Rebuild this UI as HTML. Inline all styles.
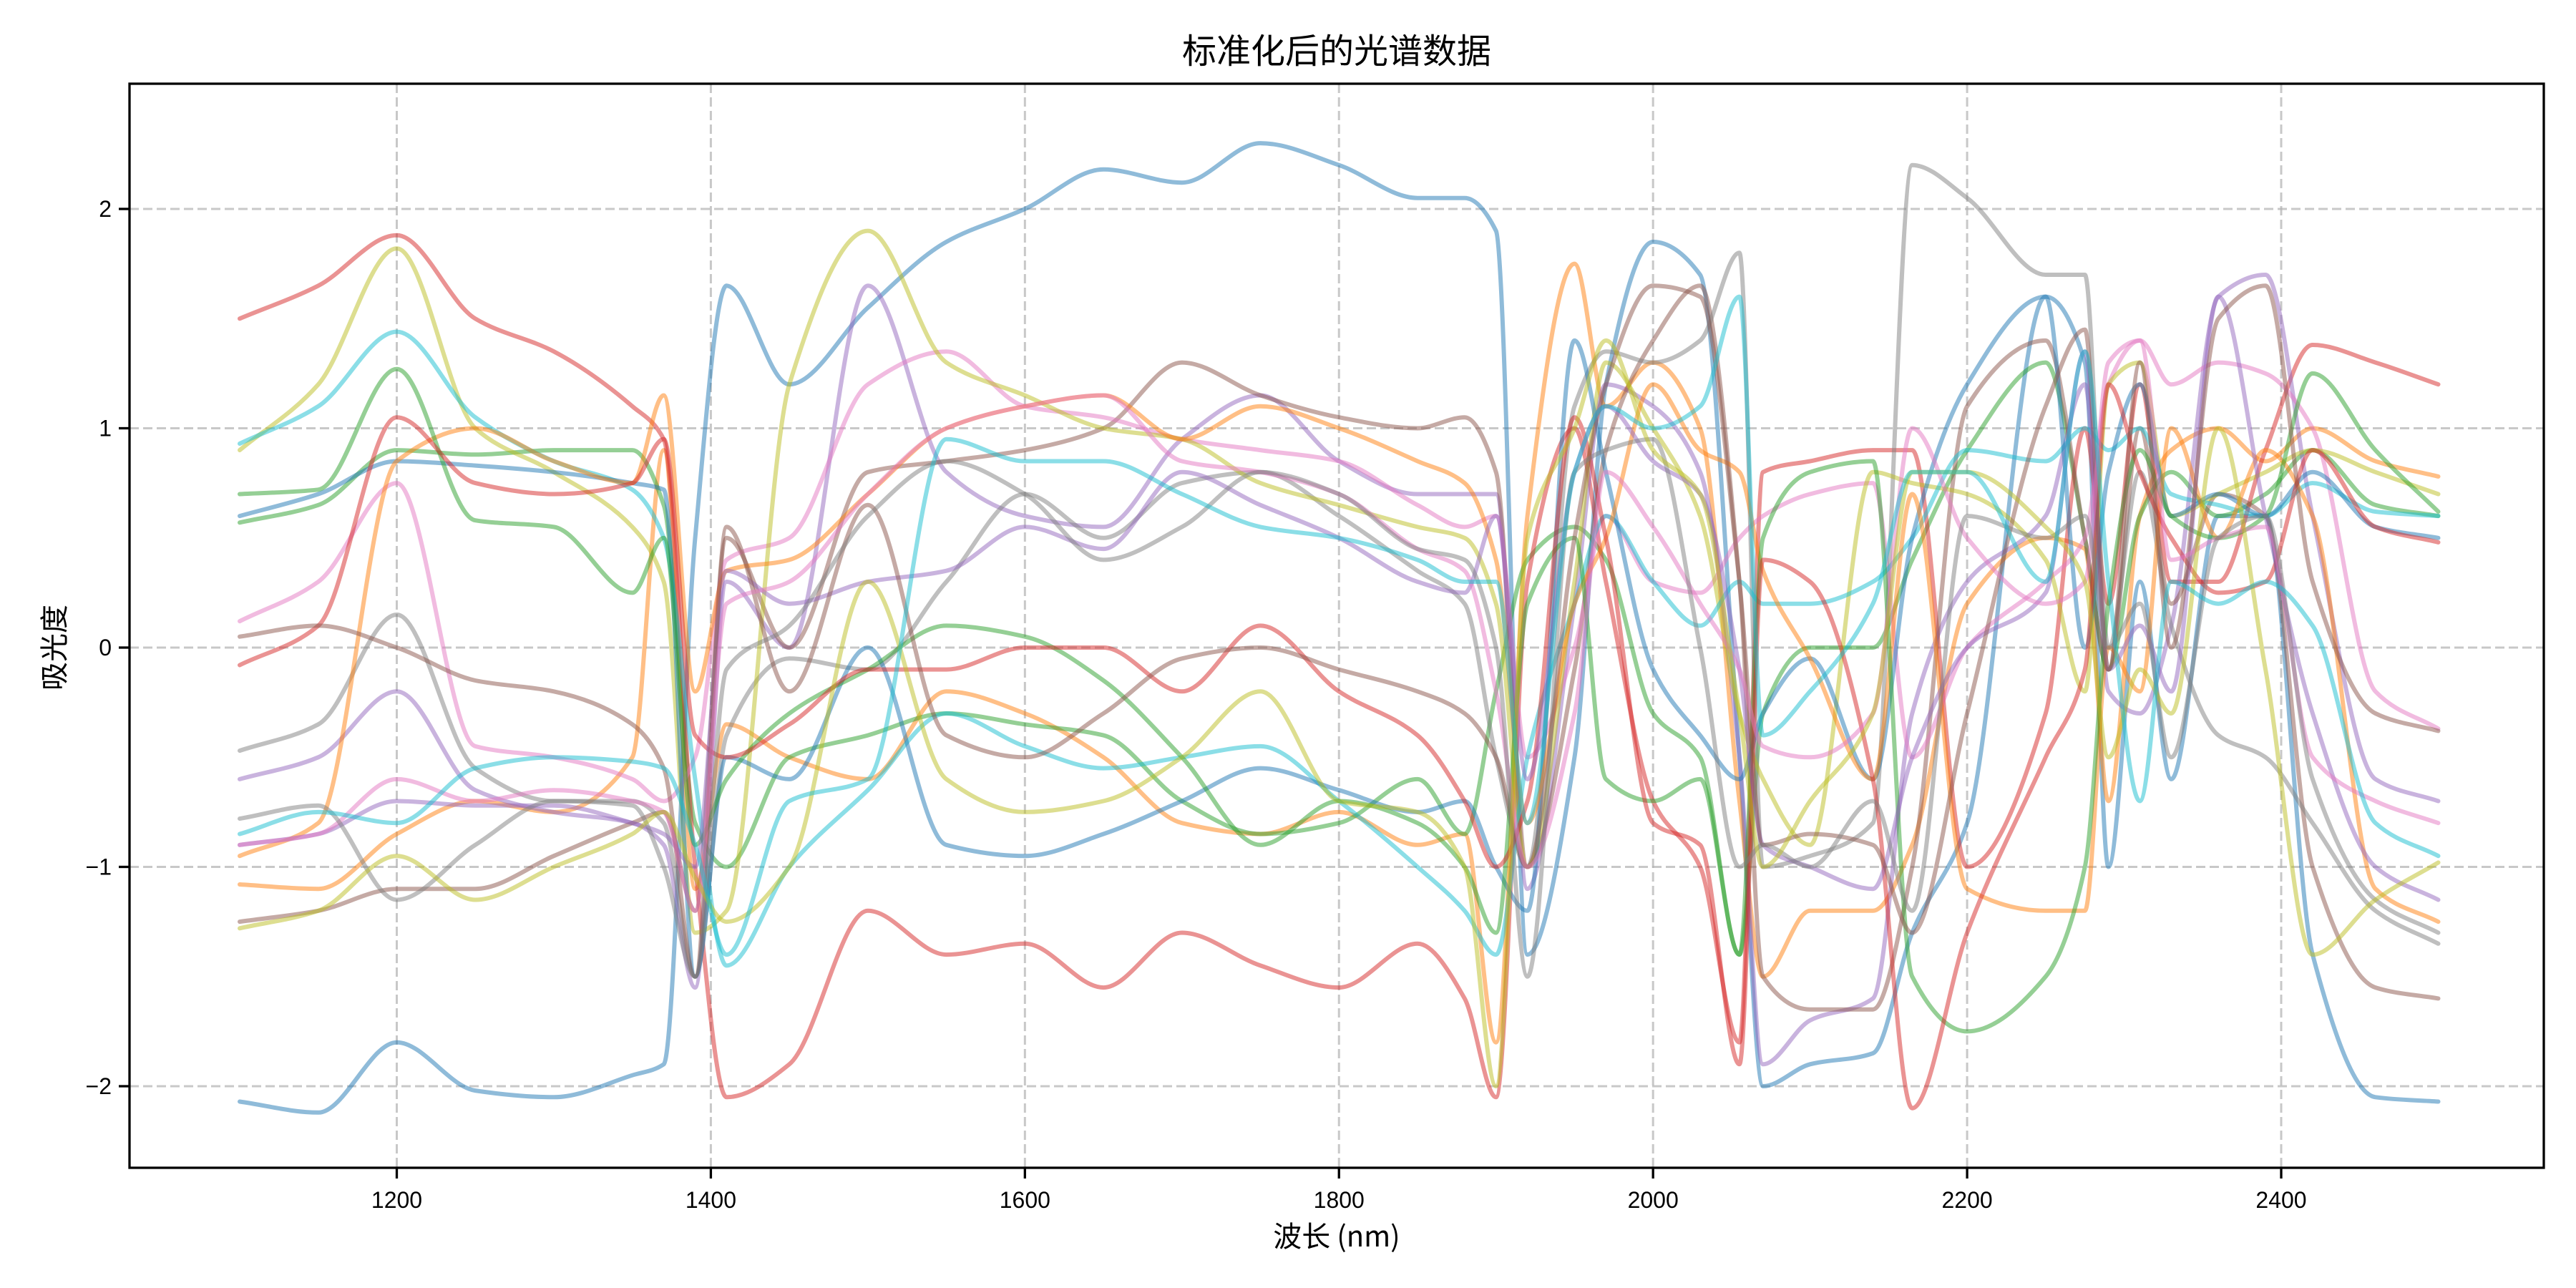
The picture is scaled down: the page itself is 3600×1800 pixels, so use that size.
<!DOCTYPE html>
<html><head><meta charset="utf-8"><style>
html,body{margin:0;padding:0;background:#fff;}
svg{display:block;font-family:"Liberation Sans","Noto Sans CJK SC",sans-serif;}
</style></head><body>
<svg id="chart" width="3600" height="1800" viewBox="0 0 3600 1800" xmlns="http://www.w3.org/2000/svg">
<rect x="0" y="0" width="3600" height="1800" fill="#fff"/>
<text x="1868" y="88" font-size="48" text-anchor="middle" font-family="'Noto Sans CJK SC',sans-serif">标准化后的光谱数据</text>
<g id="grid"></g>
<g id="lines"></g>
<rect x="181" y="117" width="3374" height="1515" fill="none" stroke="#000" stroke-width="3.3"/>
<g id="ticks"></g>
<text x="1868" y="1742" font-size="40" text-anchor="middle" font-family="'Noto Sans CJK SC',sans-serif">波长 (nm)</text>
<text x="0" y="0" font-size="40" text-anchor="middle" transform="translate(90,905) rotate(-90)" font-family="'Noto Sans CJK SC',sans-serif">吸光度</text>
</svg>
<script>
const wavelengths=[1100,1150,1200,1250,1300,1350,1370,1390,1410,1450,1500,1550,1600,1650,1700,1750,1800,1850,1880,1900,1920,1950,1970,2000,2030,2055,2070,2100,2140,2165,2200,2250,2275,2290,2310,2330,2360,2390,2420,2460,2500];
const xTicks=[1200,1400,1600,1800,2000,2200,2400];
const yTicks=[-2,-1,0,1,2];
const s0=[-2.07,-2.12,-1.8,-2.02,-2.05,-1.95,-1.9,0.5,1.65,1.2,1.55,1.85,2.0,2.18,2.12,2.3,2.2,2.05,2.05,1.9,-1.4,-0.5,1.2,1.85,1.7,-0.5,-2.0,-1.9,-1.85,-1.3,-0.8,1.6,1.3,-1.0,0.3,-0.6,0.6,0.6,-1.4,-2.05,-2.07];
const s1=[0.6,0.7,0.85,0.83,0.8,0.75,0.72,-1.5,-0.5,-0.6,0.0,-0.9,-0.95,-0.85,-0.7,-0.55,-0.65,-0.75,-0.7,-1.0,-1.2,1.4,0.8,-0.1,-0.4,-0.6,-0.3,-0.05,-0.6,0.5,1.2,1.6,0.0,0.8,1.2,0.6,0.7,0.6,0.8,0.55,0.5];
const s2=[-1.08,-1.1,-0.85,-0.7,-0.75,-0.5,0.9,-1.1,-0.35,-0.5,-0.6,-0.2,-0.3,-0.5,-0.8,-0.85,-0.75,-0.9,-0.85,-1.8,0.6,1.75,1.1,1.3,1.0,-0.7,-1.5,-1.2,-1.2,-0.9,0.2,0.5,0.45,-0.7,0.6,0.9,1.0,0.85,1.0,0.85,0.78];
const s3=[0.57,0.65,0.9,0.88,0.9,0.9,0.65,-0.8,-1.0,-0.5,-0.4,-0.3,-0.35,-0.4,-0.7,-0.85,-0.8,-0.6,-0.85,-0.2,0.4,0.55,0.4,-0.3,-0.5,-1.4,-0.3,0.0,0.0,0.4,0.9,1.3,0.5,-0.1,0.6,0.8,0.6,0.7,0.9,0.65,0.6];
const s4=[1.5,1.65,1.88,1.5,1.35,1.1,0.95,-1.0,-2.05,-1.9,-1.2,-1.4,-1.35,-1.55,-1.3,-1.45,-1.55,-1.35,-1.6,-2.05,0.3,1.0,0.3,-0.7,-1.0,-1.8,0.8,0.85,0.9,0.9,-1.0,-0.3,1.0,0.2,1.2,0.3,0.3,0.9,1.38,1.3,1.2];
const s5=[-0.6,-0.5,-0.2,-0.65,-0.75,-0.8,-0.9,-1.55,0.3,0.0,1.65,0.8,0.6,0.55,0.95,1.15,0.85,0.7,0.7,0.7,-1.1,0.2,1.2,1.1,0.8,-0.5,-1.9,-1.7,-1.6,-0.3,0.3,0.6,1.2,-0.2,-0.3,0.1,1.6,1.7,0.6,-0.6,-0.7];
const s6=[-1.25,-1.2,-1.1,-1.1,-0.95,-0.8,-0.75,-1.2,0.5,0.0,0.8,0.85,0.9,1.0,1.3,1.15,1.05,1.0,1.05,0.8,-1.0,-0.1,0.9,1.4,1.65,0.3,-1.5,-1.65,-1.65,-1.0,1.1,1.4,0.5,-0.1,1.0,0.2,0.7,0.6,-1.0,-1.55,-1.6];
const s7=[0.12,0.3,0.75,-0.45,-0.5,-0.6,-0.7,-0.5,0.4,0.5,1.2,1.35,1.1,1.05,0.95,0.9,0.85,0.65,0.55,0.6,-0.5,0.0,0.6,0.3,0.25,0.5,0.6,0.7,0.75,-0.5,0.0,0.3,0.5,1.2,1.4,1.2,1.3,1.25,1.0,-0.2,-0.37];
const s8=[-0.47,-0.35,0.15,-0.55,-0.7,-0.7,-0.8,-1.5,-0.4,-0.05,-0.1,0.3,0.7,0.5,0.75,0.8,0.6,0.35,0.2,-0.5,-1.0,1.1,1.35,1.3,1.4,1.8,-1.0,-0.95,-0.8,2.2,2.05,1.7,1.7,0.0,0.8,0.1,-0.4,-0.5,-0.8,-1.2,-1.35];
const s9=[0.9,1.2,1.82,1.0,0.8,0.55,0.3,-1.3,-1.2,1.2,1.9,1.3,1.15,1.0,0.95,0.75,0.65,0.55,0.5,0.2,-1.0,0.3,1.3,1.0,0.6,-0.3,-0.6,-0.9,0.8,0.75,0.7,0.4,-0.2,1.2,1.3,0.6,0.7,0.8,0.9,0.8,0.7];
const s10=[0.93,1.1,1.44,1.05,0.85,0.72,0.5,-0.6,-1.45,-1.0,-0.65,-0.3,-0.45,-0.55,-0.5,-0.45,-0.7,-1.0,-1.2,-1.4,-0.5,0.2,0.6,0.3,0.1,0.3,0.2,0.2,0.3,0.5,0.9,0.85,1.0,0.9,1.0,0.7,0.65,0.6,0.75,0.62,0.6];
const s11=[-0.9,-0.85,-0.7,-0.72,-0.72,-0.8,-0.85,-1.0,0.35,0.2,0.3,0.35,0.55,0.45,0.8,0.65,0.5,0.3,0.25,0.6,-0.6,0.8,1.1,0.85,0.7,-0.1,-0.9,-1.0,-1.1,-0.5,0.0,0.25,1.35,-0.1,0.1,-0.2,1.6,0.6,-0.3,-1.0,-1.15];
const s12=[-0.95,-0.8,0.85,1.0,0.85,0.75,1.15,-0.2,0.35,0.4,0.7,1.0,1.1,1.15,0.95,1.1,1.0,0.85,0.75,0.4,-0.8,0.2,0.5,1.2,0.9,0.8,0.35,-0.05,-0.6,0.7,-1.1,-1.2,-1.2,0.0,-0.2,1.0,0.5,0.9,0.6,-1.1,-1.25];
const s13=[0.7,0.72,1.27,0.58,0.55,0.25,0.5,-0.9,-0.6,-0.3,-0.1,0.1,0.05,-0.15,-0.5,-0.9,-0.7,-0.8,-1.0,-1.3,0.2,0.5,-0.6,-0.7,-0.6,-1.4,0.5,0.8,0.85,-1.5,-1.75,-1.5,-1.0,0.2,0.9,0.6,0.5,0.6,1.25,0.9,0.62];
const s14=[-0.08,0.1,1.05,0.75,0.7,0.75,0.95,-0.4,-0.5,-0.35,-0.1,-0.1,0.0,0.0,-0.2,0.1,-0.2,-0.4,-0.7,-1.0,-0.7,1.05,0.5,-0.8,-0.9,-1.9,0.4,0.3,-0.6,-2.1,-1.3,-0.5,-0.1,1.2,0.8,0.5,0.25,0.3,0.9,0.55,0.48];
const s15=[0.05,0.1,0.0,-0.15,-0.2,-0.35,-0.55,-1.5,0.55,-0.2,0.65,-0.4,-0.5,-0.3,-0.05,0.0,-0.1,-0.2,-0.3,-0.5,-1.0,0.5,1.2,1.65,1.6,0.3,-0.9,-0.85,-0.9,-1.3,-0.3,1.1,1.45,-0.1,1.3,0.0,1.5,1.65,0.3,-0.3,-0.38];
const s16=[-0.9,-0.85,-0.6,-0.7,-0.65,-0.7,-0.75,-1.2,0.2,0.3,0.7,1.0,1.1,1.15,0.85,0.8,0.7,0.45,0.35,-0.2,-1.0,-0.3,0.8,0.55,0.2,-0.1,-0.45,-0.5,-0.3,1.0,0.5,0.2,0.3,1.3,1.4,0.4,0.5,0.55,-0.5,-0.7,-0.8];
const s17=[-0.78,-0.72,-1.15,-0.9,-0.7,-0.72,-1.0,-1.5,-0.1,0.1,0.6,0.85,0.7,0.4,0.55,0.8,0.7,0.45,0.4,0.0,-1.5,0.8,0.9,0.95,0.0,-1.0,-0.9,-1.0,-0.7,-1.2,0.6,0.5,0.6,0.0,0.2,-0.5,0.5,0.6,-0.6,-1.15,-1.3];
const s18=[-1.28,-1.2,-0.95,-1.15,-1.0,-0.85,-0.75,-1.05,-1.25,-1.0,0.3,-0.6,-0.75,-0.7,-0.5,-0.2,-0.7,-0.75,-1.0,-2.0,0.5,1.0,1.4,0.9,0.7,-0.3,-1.0,-0.7,-0.3,0.8,0.8,0.55,0.3,-0.5,-0.1,-0.3,1.0,-0.1,-1.4,-1.15,-0.98];
const s19=[-0.85,-0.75,-0.8,-0.55,-0.5,-0.52,-0.55,-0.9,-1.4,-0.7,-0.6,0.95,0.85,0.85,0.7,0.55,0.5,0.4,0.3,0.3,-0.8,0.8,1.1,1.0,1.1,1.6,-0.4,-0.2,0.2,0.8,0.8,0.3,1.35,0.3,-0.7,0.3,0.2,0.3,0.1,-0.8,-0.95];
const seriesList=[s0,s2,s3,s4,s5,s6,s7,s8,s9,s10,s1,s12,s13,s14,s11,s15,s16,s17,s18,s19];
const palette=["#1f77b4","#ff7f0e","#2ca02c","#d62728","#9467bd","#8c564b","#e377c2","#7f7f7f","#bcbd22","#17becf"];

const NS="http://www.w3.org/2000/svg";
function xScale(v){return 554.5+(v-1200)*2.19458;}
function yScale(v){return 905-v*306.5;}
function mk(tag,attrs,parent){const e=document.createElementNS(NS,tag);for(const k in attrs)e.setAttribute(k,attrs[k]);parent.appendChild(e);return e;}

const grid=document.getElementById('grid');
const ticks=document.getElementById('ticks');
xTicks.forEach(t=>{
  const x=xScale(t);
  const g=mk('line',{x1:x,x2:x,y1:117,y2:1632,stroke:'#b0b0b0','stroke-opacity':0.7,'stroke-width':3,'stroke-dasharray':'13,6'},grid);
  
  
  const tk=mk('line',{x1:x,x2:x,y1:1632,y2:1647,stroke:'#000','stroke-width':3.3},ticks);
  
  
  const tl=mk('text',{x:x,y:1688,'font-size':32,'text-anchor':'middle'},ticks);
  tl.textContent=String(t);
  
  
});
yTicks.forEach(t=>{
  const y=yScale(t);
  const g=mk('line',{x1:181,x2:3555,y1:y,y2:y,stroke:'#b0b0b0','stroke-opacity':0.7,'stroke-width':3,'stroke-dasharray':'13,6'},grid);
  
  
  const tk=mk('line',{x1:166,x2:181,y1:y,y2:y,stroke:'#000','stroke-width':3.3},ticks);
  
  
  const tl=mk('text',{x:156,y:y+11,'font-size':32,'text-anchor':'end'},ticks);
  tl.textContent=(t<0?'\u2212'+(-t):String(t));
  
  
});

// monotone cubic (Fritsch-Carlson) to avoid overshoot
function smoothPath(xs,ys){
  const n=xs.length;
  const X=xs.map(xScale), Y=ys.map(yScale);
  const d=[],m=new Array(n).fill(0);
  for(let i=0;i<n-1;i++)d.push((Y[i+1]-Y[i])/(X[i+1]-X[i]));
  m[0]=d[0];m[n-1]=d[n-2];
  for(let i=1;i<n-1;i++){
    if(d[i-1]*d[i]<=0)m[i]=0;
    else{const h0=X[i]-X[i-1],h1=X[i+1]-X[i];const w1=2*h1+h0,w2=h1+2*h0;m[i]=(w1+w2)/(w1/d[i-1]+w2/d[i]);}
  }
  let p='M'+X[0].toFixed(1)+','+Y[0].toFixed(1);
  for(let i=0;i<n-1;i++){
    const h=X[i+1]-X[i];
    p+=' C'+(X[i]+h/3).toFixed(1)+','+(Y[i]+m[i]*h/3).toFixed(1)+' '+(X[i+1]-h/3).toFixed(1)+','+(Y[i+1]-m[i+1]*h/3).toFixed(1)+' '+X[i+1].toFixed(1)+','+Y[i+1].toFixed(1);
  }
  return p;
}
const lines=document.getElementById('lines');
seriesList.forEach((s,i)=>{
  const p=mk('path',{d:smoothPath(wavelengths,s),fill:'none',stroke:palette[i%10],'stroke-opacity':0.5,'stroke-width':6,'stroke-linejoin':'round','stroke-linecap':'round'},lines);
  
  
});
</script>
</body></html>
